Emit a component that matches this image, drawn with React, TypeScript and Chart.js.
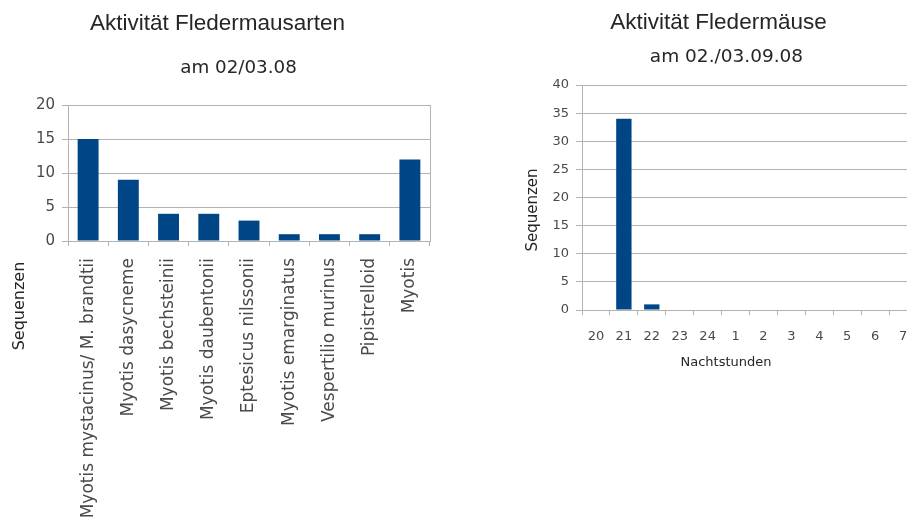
import React, { useEffect, useRef } from "react";
import { Chart, registerables } from "chart.js";

Chart.register(...registerables);

// Species chart (left)
const speciesLabels = [
  "Myotis mystacinus/ M. brandtii",
  "Myotis dasycneme",
  "Myotis bechsteinii",
  "Myotis daubentonii",
  "Eptesicus nilssonii",
  "Myotis emarginatus",
  "Vespertilio murinus",
  "Pipistrelloid",
  "Myotis",
];
const speciesCounts = [15, 9, 4, 4, 3, 1, 1, 1, 12];
const speciesAxis = { min: 0, max: 20, step: 5 };

// Hourly chart (right)
const hourLabels = ["20", "21", "22", "23", "24", "1", "2", "3", "4", "5", "6", "7"];
const hourCounts = [0, 34, 1, 0, 0, 0, 0, 0, 0, 0, 0, 0];
const hourAxis = { min: 0, max: 40, step: 5 };

const BAR = "#004586";
const GRID = "#b3b3b3";
const TICK = "#4a4a4a";
const TITLE = "#262626";
const SANS = "'DejaVu Sans', sans-serif";
const ARIAL = "'Liberation Sans', Arial, sans-serif";

type TextItem = { text: string; x: number; y: number; font: string; rotate?: number };

function textPlugin(items: TextItem[]) {
  return {
    id: "panelTexts",
    beforeDatasetsDraw(chart: any) {
      const { ctx, chartArea } = chart;
      ctx.save();
      ctx.strokeStyle = GRID;
      ctx.lineWidth = 1;
      ctx.strokeRect(
        Math.round(chartArea.left) + 0.5,
        Math.round(chartArea.top) + 0.5,
        Math.round(chartArea.right - chartArea.left),
        Math.round(chartArea.bottom - chartArea.top)
      );
      ctx.restore();
    },
    afterDraw(chart: any) {
      const ctx = chart.ctx;
      for (const t of items) {
        ctx.save();
        ctx.font = t.font;
        ctx.fillStyle = TITLE;
        ctx.textAlign = "center";
        ctx.textBaseline = "middle";
        ctx.translate(t.x, t.y);
        if (t.rotate) ctx.rotate(t.rotate);
        ctx.fillText(t.text, 0, 0);
        ctx.restore();
      }
    },
  };
}

type PanelProps = {
  left: number;
  width: number;
  height: number;
  labels: string[];
  values: number[];
  axis: { min: number; max: number; step: number };
  area: { left: number; right: number; top: number; bottom: number };
  yFont: number;
  xFont: number;
  xPadding: number;
  rotate: boolean;
  barPct: number;
  texts: TextItem[];
};

function BarPanel(p: PanelProps) {
  const ref = useRef<HTMLCanvasElement | null>(null);

  useEffect(() => {
    if (!ref.current) return;
    const chart = new Chart(ref.current, {
      type: "bar",
      data: {
        labels: p.labels,
        datasets: [
          {
            data: p.values,
            backgroundColor: BAR,
            borderWidth: 0,
            categoryPercentage: 1,
            barPercentage: p.barPct,
          },
        ],
      },
      options: {
        responsive: false,
        animation: false,
        events: [],
        layout: {
          padding: { left: 0, top: p.area.top, right: p.width - p.area.right, bottom: 0 },
        },
        plugins: {
          legend: { display: false },
          title: { display: false },
          tooltip: { enabled: false },
        },
        scales: {
          x: {
            type: "category",
            grid: {
              display: true,
              offset: true,
              drawOnChartArea: false,
              drawTicks: true,
              tickLength: 5,
              color: GRID,
            },
            border: { display: true, color: GRID },
            ticks: {
              autoSkip: false,
              maxRotation: p.rotate ? 90 : 0,
              minRotation: p.rotate ? 90 : 0,
              padding: p.xPadding,
              color: TICK,
              font: { family: SANS, size: p.xFont },
            },
            afterFit: (s: any) => {
              s.height = p.height - p.area.bottom;
            },
          },
          y: {
            min: p.axis.min,
            max: p.axis.max,
            grid: { color: GRID, tickLength: 6, drawTicks: true },
            border: { display: true, color: GRID },
            ticks: {
              stepSize: p.axis.step,
              padding: 7,
              color: TICK,
              font: { family: SANS, size: p.yFont },
            },
            afterFit: (s: any) => {
              s.width = p.area.left;
            },
          },
        },
      },
      plugins: [textPlugin(p.texts)],
    } as any);
    return () => chart.destroy();
  }, []);

  return (
    <div style={{ position: "absolute", left: p.left, top: 0, width: p.width, height: p.height }}>
      <canvas ref={ref} width={p.width} height={p.height} style={{ display: "block" }} />
    </div>
  );
}

export default function App() {
  return (
    <div
      style={{
        position: "fixed",
        left: 0,
        top: 0,
        width: 907,
        height: 517,
        overflow: "hidden",
        background: "#ffffff",
      }}
    >
      <BarPanel
        left={0}
        width={455}
        height={517}
        labels={speciesLabels}
        values={speciesCounts}
        axis={speciesAxis}
        area={{ left: 68, right: 430, top: 105, bottom: 241 }}
        yFont={15}
        xFont={17}
        xPadding={12}
        rotate={true}
        barPct={0.52}
        texts={[
          { text: "Aktivität Fledermausarten", x: 217.5, y: 24, font: `22.5px ${ARIAL}` },
          { text: "am 02/03.08", x: 238.5, y: 68.5, font: `18.3px ${SANS}` },
          { text: "Sequenzen", x: 20, y: 306, font: `16px ${SANS}`, rotate: -Math.PI / 2 },
        ]}
      />
      <BarPanel
        left={460}
        width={470}
        height={517}
        labels={hourLabels}
        values={hourCounts}
        axis={hourAxis}
        area={{ left: 122, right: 457, top: 85, bottom: 310 }}
        yFont={13}
        xFont={13}
        xPadding={14}
        rotate={false}
        barPct={0.55}
        texts={[
          { text: "Aktivität Fledermäuse", x: 258.5, y: 23, font: `22.5px ${ARIAL}` },
          { text: "am 02./03.09.08", x: 266.5, y: 57, font: `18.5px ${SANS}` },
          { text: "Sequenzen", x: 73, y: 210, font: `15px ${SANS}`, rotate: -Math.PI / 2 },
          { text: "Nachtstunden", x: 266, y: 363, font: `13px ${SANS}` },
        ]}
      />
    </div>
  );
}
